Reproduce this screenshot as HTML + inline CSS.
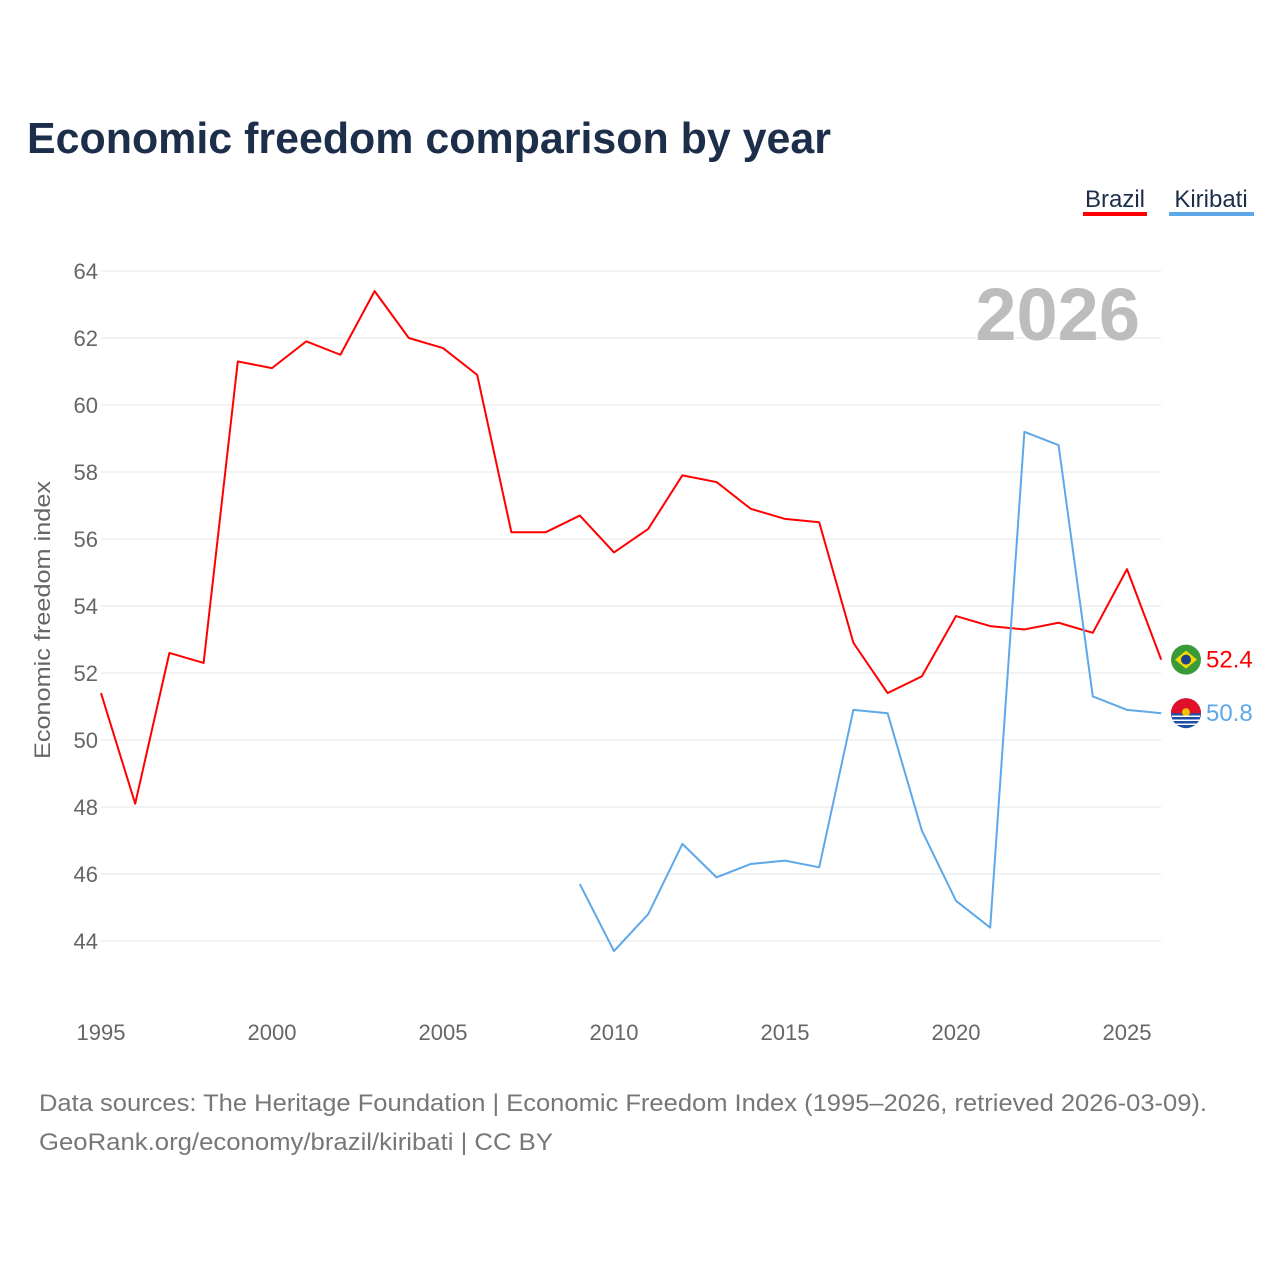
<!DOCTYPE html>
<html><head><meta charset="utf-8">
<style>
body{margin:0;background:#fff;font-family:"Liberation Sans",sans-serif;}
#wrap{position:relative;width:1280px;height:1280px;overflow:hidden;}
</style></head>
<body>
<div id="wrap">
<svg id="chart" width="1280" height="1280"></svg>
</div>
<script>
const years = [1995,1996,1997,1998,1999,2000,2001,2002,2003,2004,2005,2006,2007,2008,2009,2010,2011,2012,2013,2014,2015,2016,2017,2018,2019,2020,2021,2022,2023,2024,2025,2026];
const brazil = [51.4,48.1,52.6,52.3,61.3,61.1,61.9,61.5,63.4,62.0,61.7,60.9,56.2,56.2,56.7,55.6,56.3,57.9,57.7,56.9,56.6,56.5,52.9,51.4,51.9,53.7,53.4,53.3,53.5,53.2,55.1,52.4];
const kiribatiYears = [2009,2010,2011,2012,2013,2014,2015,2016,2017,2018,2019,2020,2021,2022,2023,2024,2025,2026];
const kiribati = [45.7,43.7,44.8,46.9,45.9,46.3,46.4,46.2,50.9,50.8,47.3,45.2,44.4,59.2,58.8,51.3,50.9,50.8];
const yTicks = [44,46,48,50,52,54,56,58,60,62,64];
const xTicks = [1995,2000,2005,2010,2015,2020,2025];

const NS="http://www.w3.org/2000/svg";
const svg=document.getElementById('chart');
const x=v=>101+(v-1995)*(1026/30);
const y=v=>271+(64-v)*33.5;
function mk(tag,attrs,parent){const e=document.createElementNS(NS,tag);for(const k in attrs)e.setAttribute(k,attrs[k]);(parent||svg).appendChild(e);return e;}

let t=mk('text',{x:27,y:153,'font-size':44,'font-weight':'bold',fill:'#1c2e4a',textLength:804,lengthAdjust:'spacingAndGlyphs'});
t.textContent='Economic freedom comparison by year';



t=mk('text',{x:1115,y:207,'font-size':24,fill:'#1c2e4a','text-anchor':'middle'});t.textContent='Brazil';


mk('rect',{x:1083,y:212,width:64,height:4,fill:'#ff0000'});
t=mk('text',{x:1211,y:207,'font-size':24,fill:'#1c2e4a','text-anchor':'middle'});t.textContent='Kiribati';


mk('rect',{x:1169,y:212,width:85,height:4,fill:'#5ea8ea'});

yTicks.forEach(v=>{
  const g=mk('line',{x1:101,x2:1161,y1:y(v),y2:y(v),stroke:'#e6e6e6','stroke-width':1});
  
  
  const l=mk('text',{x:98,y:y(v)+8,'font-size':22,fill:'#666','text-anchor':'end'});l.textContent=v;
  
  
});
xTicks.forEach(v=>{
  const l=mk('text',{x:x(v),y:1040,'font-size':22,fill:'#666','text-anchor':'middle'});l.textContent=v;
  
  
});
t=mk('text',{x:-139,y:0,'font-size':22,fill:'#666',textLength:278,lengthAdjust:'spacingAndGlyphs',transform:'translate(50,620) rotate(-90)'});
t.textContent='Economic freedom index';



t=mk('text',{x:1140,y:340,'font-size':74,'font-weight':'bold',fill:'#bdbdbd','text-anchor':'end'});t.textContent='2026';



function line(xs,vs,color,name){
  const p=mk('polyline',{points:xs.map((yr,i)=>x(yr)+','+y(vs[i])).join(' '),fill:'none',stroke:color,'stroke-width':2,'stroke-linejoin':'round'});
  
  
}
line(years,brazil,'#ff0000','brazil-line');
line(kiribatiYears,kiribati,'#5ea8ea','kiribati-line');

function endMark(v,color,name,kind){
  const cy=y(v), cx=1186;
  const g=mk('g',{});
  
  
  if(kind==='br'){
    mk('circle',{cx,cy,r:15,fill:'#3a9a3a'},g);
    mk('polygon',{points:`${cx-11},${cy} ${cx},${cy-9} ${cx+11},${cy} ${cx},${cy+9}`,fill:'#f5d800'},g);
    mk('circle',{cx,cy,r:5,fill:'#1d3f8a'},g);
  }else{
    mk('circle',{cx,cy,r:15,fill:'#1b4fa8'},g);
    mk('path',{d:`M${cx-15},${cy} A15,15 0 0 1 ${cx+15},${cy} Z`,fill:'#e0102a'},g);
    mk('circle',{cx,cy:cy-1,r:4,fill:'#f5c000'},g);
    for(let i=0;i<3;i++)mk('line',{x1:cx-14,x2:cx+14,y1:cy+3+i*4,y2:cy+3+i*4,stroke:'#fff','stroke-width':1.5},g);
  }
  const l=mk('text',{x:1206,y:cy+8,'font-size':24,fill:color});l.textContent=v.toFixed(1);
  
  
}
endMark(brazil[brazil.length-1],'#ff0000','brazil','br');
endMark(kiribati[kiribati.length-1],'#5ea8ea','kiribati','ki');

t=mk('text',{x:39,y:1111,'font-size':24,fill:'#777',textLength:1168,lengthAdjust:'spacingAndGlyphs'});
t.textContent='Data sources: The Heritage Foundation | Economic Freedom Index (1995–2026, retrieved 2026-03-09).';


t=mk('text',{x:39,y:1150,'font-size':24,fill:'#777',textLength:514,lengthAdjust:'spacingAndGlyphs'});
t.textContent='GeoRank.org/economy/brazil/kiribati | CC BY';


</script>
</body></html>
